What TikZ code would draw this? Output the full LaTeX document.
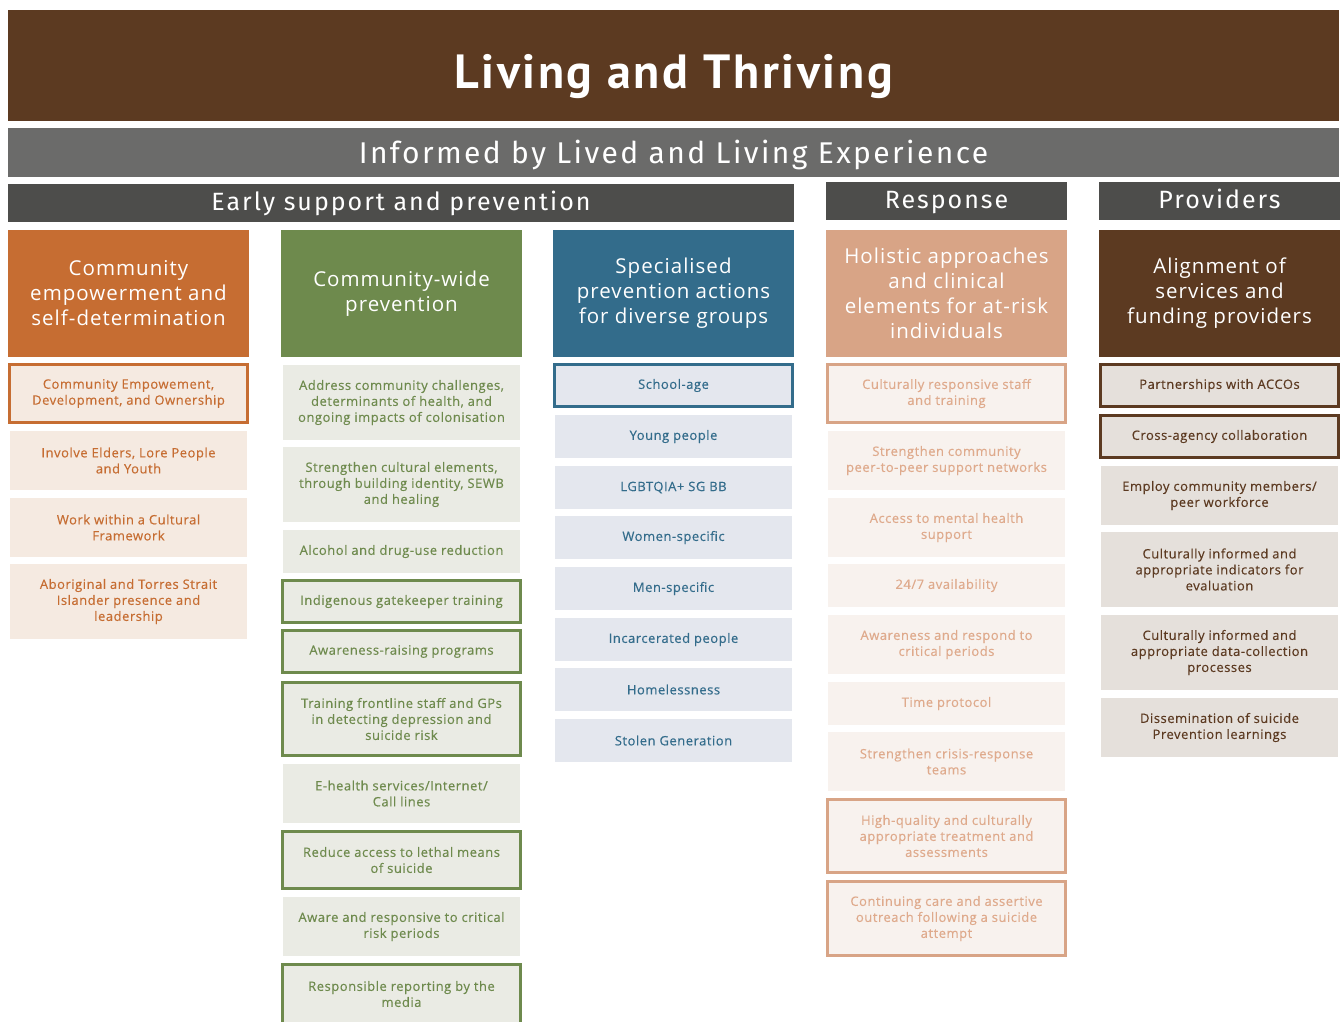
\documentclass[tikz,border=0pt]{standalone}
\usepackage{fontspec}
\setmainfont{Open Sans}
\newfontfamily\titlefont{PT Sans}[LetterSpace=5.5]
\newfontfamily\barfont{Fira Sans}[LetterSpace=8]
\newfontfamily\headfont{Open Sans}[LetterSpace=5]
\newfontfamily\itemfont{Open Sans}[LetterSpace=4,FakeBold=0.3]

\definecolor{brownD}{HTML}{5C3A21}
\definecolor{greyM}{HTML}{6B6B6A}
\definecolor{greyD}{HTML}{4D4D4B}
\definecolor{orng}{HTML}{C66D32}
\definecolor{orngL}{HTML}{F5EAE1}
\definecolor{grn}{HTML}{6E8A4D}
\definecolor{grnL}{HTML}{EAEBE4}
\definecolor{blu}{HTML}{336C8B}
\definecolor{bluL}{HTML}{E4E7EE}
\definecolor{slm}{HTML}{D8A486}
\definecolor{slmT}{HTML}{DFAA8C}
\definecolor{slmL}{HTML}{F8F2EE}
\definecolor{brnL}{HTML}{E5E0DB}

\begin{document}
\begin{tikzpicture}[x=1pt,y=-1pt]
    \tikzstyle{every node}+=[inner sep=0pt]
    \tikzstyle{bar}=[text=white, align=center, text depth=0pt]
    \tikzstyle{colhead}=[text=white, minimum width=241pt, minimum height=127pt, align=center, font=\headfont\fontsize{20.5}{25}\selectfont]
    \tikzstyle{item}=[minimum width=237pt, align=center, font=\itemfont\fontsize{13}{16}\selectfont]
    \tikzstyle{framed}=[draw, line width=3pt, minimum width=238pt]
    \tikzstyle{c1}=[color=orng, fill=orngL]
    \tikzstyle{c2}=[color=grn, fill=grnL]
    \tikzstyle{c3}=[color=blu, fill=bluL]
    \tikzstyle{c4}=[color=slm, fill=slmL, text=slmT]
    \tikzstyle{c5}=[color=brownD, fill=brnL]
    \clip (0,0) rectangle (1344,1021);
    % bands across the top
    \node [bar, fill=brownD, minimum width=1331pt, minimum height=111pt, text height=45pt, font=\titlefont\bfseries\fontsize{48}{48}\selectfont] (title) at (673.5,65.5) {Living and Thriving};
    \node [bar, fill=greyM, minimum width=1331pt, minimum height=49pt, text height=21pt, font=\barfont\fontsize{30}{30}\selectfont] (lived) at (673.5,152.5) {Informed by Lived and Living Experience};
    \node [bar, fill=greyD, minimum width=786pt, minimum height=38pt, text height=14pt, font=\barfont\fontsize{25}{25}\selectfont] (early) at (401,203) {Early support and prevention};
    \node [bar, fill=greyD, minimum width=241pt, minimum height=38pt, text height=14pt, font=\barfont\fontsize{25}{25}\selectfont] (resp) at (946.5,201) {Response};
    \node [bar, fill=greyD, minimum width=241pt, minimum height=38pt, text height=14pt, font=\barfont\fontsize{25}{25}\selectfont] (prov) at (1219.5,201) {Providers};
    % column heads
    \node [colhead, fill=orng] (h1) at (128.5,293.5) {Community\\empowerment and\\self-determination};
    \node [colhead, fill=grn] (h2) at (401.5,293.5) {Community-wide\\prevention};
    \node [colhead, fill=blu] (h3) at (673.5,293.5) {Specialised\\prevention actions\\for diverse groups};
    \node [colhead, fill=slm] (h4) at (946.5,293.5) {Holistic approaches\\and clinical\\elements for at-risk\\individuals};
    \node [colhead, fill=brownD] (h5) at (1219.5,293.5) {Alignment of\\services and\\funding providers};
    % community empowerment
    \node [item, c1, framed, minimum height=58pt] (c1a) at (128.5,393.5) {Community Empowement,\\Development, and Ownership};
    \node [item, c1, minimum height=59pt] (c1b) at (128.5,460.5) {Involve Elders, Lore People\\and Youth};
    \node [item, c1, minimum height=59pt] (c1c) at (128.5,527.5) {Work within a Cultural\\Framework};
    \node [item, c1, minimum height=75pt] (c1d) at (128.5,601.5) {Aboriginal and Torres Strait\\Islander presence and\\leadership};
    % community-wide prevention
    \node [item, c2, minimum height=75pt] (c2a) at (401.5,402.5) {Address community challenges,\\determinants of health, and\\ongoing impacts of colonisation};
    \node [item, c2, minimum height=75pt] (c2b) at (401.5,484.5) {Strengthen cultural elements,\\through building identity, SEWB\\and healing};
    \node [item, c2, minimum height=43pt] (c2c) at (401.5,551.5) {Alcohol and drug-use reduction};
    \node [item, c2, framed, minimum height=42pt] (c2d) at (401.5,601.5) {Indigenous gatekeeper training};
    \node [item, c2, framed, minimum height=42pt] (c2e) at (401.5,651.5) {Awareness-raising programs};
    \node [item, c2, framed, minimum height=73pt] (c2f) at (401.5,719) {Training frontline staff and GPs\\in detecting depression and\\suicide risk};
    \node [item, c2, minimum height=59pt] (c2g) at (401.5,793.5) {E-health services/Internet/\\Call lines};
    \node [item, c2, framed, minimum height=57pt] (c2h) at (401.5,860) {Reduce access to lethal means\\of suicide};
    \node [item, c2, minimum height=59pt] (c2i) at (401.5,926.5) {Aware and responsive to critical\\risk periods};
    \node [item, c2, framed, minimum height=59pt] (c2j) at (401.5,994) {Responsible reporting by the\\media};
    % diverse groups
    \node [item, c3, framed, minimum height=42pt] (c3a) at (673.5,385.5) {School-age};
    \node [item, c3, minimum height=43pt] (c3b) at (673.5,436.5) {Young people};
    \node [item, c3, minimum height=43pt] (c3c) at (673.5,487.5) {LGBTQIA+ SG BB};
    \node [item, c3, minimum height=43pt] (c3d) at (673.5,537.5) {Women-specific};
    \node [item, c3, minimum height=43pt] (c3e) at (673.5,588.5) {Men-specific};
    \node [item, c3, minimum height=43pt] (c3f) at (673.5,639.5) {Incarcerated people};
    \node [item, c3, minimum height=43pt] (c3g) at (673.5,689.5) {Homelessness};
    \node [item, c3, minimum height=43pt] (c3h) at (673.5,740.5) {Stolen Generation};
    % at-risk individuals
    \node [item, c4, framed, minimum height=58pt] (c4a) at (946.5,393.5) {Culturally responsive staff\\and training};
    \node [item, c4, minimum height=59pt] (c4b) at (946.5,460.5) {Strengthen community\\peer-to-peer support networks};
    \node [item, c4, minimum height=59pt] (c4c) at (946.5,527.5) {Access to mental health\\support};
    \node [item, c4, minimum height=43pt] (c4d) at (946.5,585.5) {24/7 availability};
    \node [item, c4, minimum height=59pt] (c4e) at (946.5,644.5) {Awareness and respond to\\critical periods};
    \node [item, c4, minimum height=43pt] (c4f) at (946.5,703.5) {Time protocol};
    \node [item, c4, minimum height=59pt] (c4g) at (946.5,761.5) {Strengthen crisis-response\\teams};
    \node [item, c4, framed, minimum height=73pt] (c4h) at (946.5,836) {High-quality and culturally\\appropriate treatment and\\assessments};
    \node [item, c4, framed, minimum height=74pt] (c4i) at (946.5,918.5) {Continuing care and assertive\\outreach following a suicide\\attempt};
    % providers
    \node [item, c5, framed, minimum height=42pt] (c5a) at (1219.5,385.5) {Partnerships with ACCOs};
    \node [item, c5, framed, minimum height=42pt] (c5b) at (1219.5,436.5) {Cross-agency collaboration};
    \node [item, c5, minimum height=59pt] (c5c) at (1219.5,495.5) {Employ community members/\\peer workforce};
    \node [item, c5, minimum height=75pt] (c5d) at (1219.5,569.5) {Culturally informed and\\appropriate indicators for\\evaluation};
    \node [item, c5, minimum height=75pt] (c5e) at (1219.5,652.5) {Culturally informed and\\appropriate data-collection\\processes};
    \node [item, c5, minimum height=59pt] (c5f) at (1219.5,727.5) {Dissemination of suicide\\Prevention learnings};
\end{tikzpicture}
\end{document}
